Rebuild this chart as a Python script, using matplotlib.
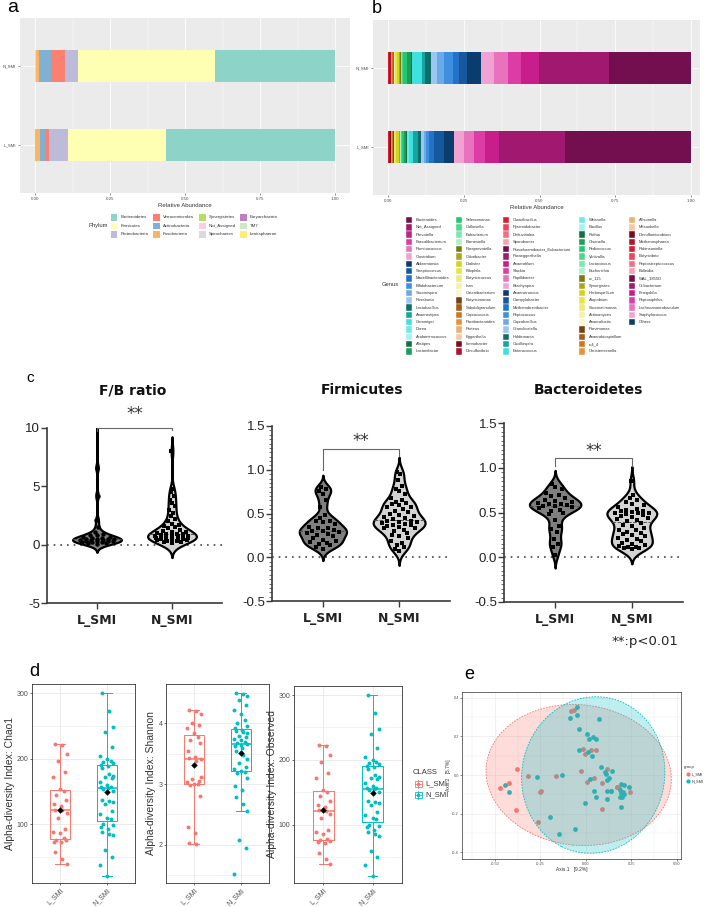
import numpy as np
import matplotlib
matplotlib.use("Agg")
import matplotlib.pyplot as plt
from matplotlib.patches import Rectangle, Ellipse
from matplotlib.ticker import MultipleLocator

plt.rcParams['font.family'] = ['DejaVu Sans']
GG = 'Liberation Sans'

# ---------------- DATA ----------------
groups = ['L_SMI', 'N_SMI']

# panel a : phylum relative abundance
phyla = ['Bacteroidetes', 'Firmicutes', 'Proteobacteria', 'Verrucomicrobia', 'Actinobacteria',
         'Fusobacteria', 'Synergistetes', 'Not_Assigned', 'Spirochaetes', 'Euryarchaeota', 'TM7',
         'Lentisphaerae']
phylum_colors = ['#8DD3C7', '#FFFFB3', '#BEBADA', '#FB8072', '#80B1D3', '#FDB462', '#B3DE69',
                 '#FCCDE5', '#D9D9D9', '#BC80BD', '#CCEBC5', '#FFED6F']
phylum_L = [0.562, 0.327, 0.063, 0.015, 0.015, 0.016, 0.001, 0.0005, 0.0003, 0.0001, 0.0001, 0.0001]
phylum_N = [0.401, 0.457, 0.042, 0.047, 0.040, 0.010, 0.001, 0.001, 0.0005, 0.0005, 0.0003, 0.0002]

# panel b : genus relative abundance
genera = ['Bacteroides', 'Not_Assigned', 'Prevotella', 'Faecalibacterium', 'Ruminococcus', 'Clostridium',
          'Akkermansia', 'Streptococcus', 'Macellibacteroides', 'Bifidobacterium', 'Succinispira',
          'Roseburia', 'Lactobacillus', 'Anaerostipes', 'Gemmiger', 'Dorea', 'Acidaminococcus',
          'Alistipes', 'Lactonifactor',
          'Selenomonas', 'Collinsella', 'Eubacterium', 'Barnesiella', 'Paraprevotella', 'Odoribacter',
          'Dialister', 'Bilophila', 'Butyricicoccus', 'Inan', 'Catenibacterium', 'Butyricimonas',
          'Subdoligranulum', 'Coprococcus', 'Parabacteroides', 'Proteus', 'Eggerthella', 'Limnobacter',
          'Desulfovibrio',
          'Cloacibacillus', 'Pyramidobacter', 'Defluviitalea', 'Sporobacter', 'Pseudoramibacter_Eubacterium',
          'Paraeggerthella', 'Anaerofilum', 'Slackia', 'Papillibacter', 'Brachyspira', 'Anaerotruncus',
          'Campylobacter', 'Methanobrevibacter', 'Peptococcus', 'Coprobacillus', 'Granulicatella',
          'Holdemania', 'Oscillospira', 'Enterococcus',
          'Weissella', 'Bacillus', 'Rothia', 'Olsenella', 'Pediococcus', 'Victivallis', 'Lactococcus',
          'Escherichia', 'cc_115', 'Synergistes', 'Herbaspirillum', 'Atopobium', 'Succinatimonas',
          'Actinomyces', 'Anaerofustis', 'Parvimonas', 'Anaerobiospirillum', 'rc4_4', 'Christensenella',
          'Allisonella', 'Mitsuokella', 'Desulfomicrobium', 'Methanosphaera', 'Robinsoniella',
          'Butyrivibrio', 'Peptostreptococcus', 'Bulleidia', 'WAL_1855D', 'Oribacterium', 'Finegoldia',
          'Peptoniphilus', 'Lachnoanaerobaculum', 'Staphylococcus', 'Others']
genus_palette = ['#730F4F', '#A0186F', '#C71E8C', '#DD3BA5', '#E872BE', '#F0A3D3',
                 '#0B3C6E', '#15589E', '#2272C8', '#3E8FE0', '#6AAAE8', '#9CC6F0',
                 '#0D6E6A', '#17A3A0', '#3FE0E0', '#70E8EA', '#A3F2F2',
                 '#15703F', '#1C9E58', '#22C76E', '#4BD98E', '#7DE8AD', '#AAF0CC',
                 '#7A7A10', '#A8A818', '#D4D420', '#E5E545', '#ECEC78', '#F2F2A8', '#F7F7D0',
                 '#7A4010', '#A85C18', '#D4731F', '#E8903A', '#F0AE70', '#F5C9A0',
                 '#7A0C1E', '#B0122C', '#D81C30', '#E8455E', '#EF7085', '#F5A0B0']
genus_L = [0.421, 0.218, 0.047, 0.036, 0.034, 0.034, 0.035, 0.031, 0.017, 0.011, 0.008, 0.008,
           0.012, 0.014, 0.015, 0.005, 0.001, 0.003, 0.008, 0.006, 0.003, 0.001, 0.001, 0.003,
           0.003, 0.008, 0.004, 0.002, 0.001, 0.001, 0.002, 0.002, 0.003, 0.002, 0.001, 0.001,
           0.001, 0.004, 0.002, 0.001]
genus_N = [0.271, 0.233, 0.062, 0.043, 0.045, 0.044, 0.047, 0.025, 0.022, 0.030, 0.022, 0.020,
           0.020, 0.011, 0.031, 0.001, 0.001, 0.004, 0.012, 0.012, 0.006, 0.002, 0.001, 0.004,
           0.003, 0.007, 0.004, 0.002, 0.001, 0.001, 0.002, 0.002, 0.003, 0.002, 0.001, 0.001,
           0.001, 0.005, 0.002, 0.001]

# panel c : violin data
fb_L = [12.0, 6.6, 4.2, 2.1, 1.5, 1.1, 0.9, 0.85, 0.8, 0.7, 0.65, 0.6, 0.55, 0.52, 0.5, 0.48, 0.45,
        0.42, 0.4, 0.38, 0.35, 0.33, 0.3, 0.28, 0.25, 0.22, 0.2, 0.18, 0.15, 0.1]
fb_N = [8.0, 4.8, 4.5, 4.2, 3.8, 3.6, 3.3, 3.0, 2.7, 2.5, 2.2, 2.0, 1.8, 1.7, 1.6, 1.5, 1.4, 1.3,
        1.2, 1.1, 1.05, 1.0, 0.95, 0.9, 0.88, 0.85, 0.8, 0.78, 0.75, 0.72, 0.7, 0.68, 0.65, 0.62,
        0.6, 0.58, 0.55, 0.52, 0.5, 0.48, 0.45, 0.42, 0.4, 0.35, 0.3, 0.25, 0.2, 0.15]
firm_L = [0.80, 0.78, 0.76, 0.72, 0.65, 0.58, 0.48, 0.45, 0.42, 0.41, 0.40, 0.38, 0.35, 0.34, 0.33,
          0.31, 0.30, 0.30, 0.29, 0.28, 0.27, 0.25, 0.24, 0.22, 0.20, 0.19, 0.17, 0.16, 0.15, 0.14,
          0.12, 0.10]
firm_N = [0.98, 0.95, 0.88, 0.82, 0.78, 0.76, 0.72, 0.68, 0.65, 0.63, 0.62, 0.61, 0.60, 0.58, 0.57,
          0.55, 0.53, 0.52, 0.50, 0.48, 0.47, 0.46, 0.45, 0.44, 0.42, 0.41, 0.40, 0.40, 0.39, 0.38,
          0.37, 0.37, 0.36, 0.35, 0.34, 0.33, 0.31, 0.30, 0.28, 0.26, 0.24, 0.22, 0.19, 0.16, 0.14,
          0.12, 0.10, 0.07]
bact_L = [0.82, 0.79, 0.76, 0.72, 0.70, 0.68, 0.66, 0.64, 0.63, 0.62, 0.61, 0.60, 0.59, 0.58, 0.57,
          0.57, 0.56, 0.55, 0.53, 0.52, 0.50, 0.48, 0.42, 0.35, 0.32, 0.28, 0.20, 0.15, 0.12, 0.03]
bact_N = [0.85, 0.70, 0.66, 0.64, 0.62, 0.60, 0.58, 0.56, 0.54, 0.53, 0.52, 0.52, 0.51, 0.50, 0.50,
          0.49, 0.48, 0.47, 0.46, 0.45, 0.44, 0.43, 0.42, 0.40, 0.38, 0.36, 0.35, 0.33, 0.31, 0.30,
          0.28, 0.27, 0.26, 0.25, 0.24, 0.22, 0.20, 0.19, 0.18, 0.16, 0.15, 0.14, 0.13, 0.12, 0.11,
          0.10, 0.10, 0.09]

# panel d : alpha diversity
chao1_L = [223, 221, 207, 197, 180, 172, 153, 150, 145, 137, 131, 127, 122, 121, 117, 110, 92, 88,
           86, 78, 76, 75, 73, 72, 57, 47, 39]
chao1_N = [300, 273, 248, 240, 218, 204, 200, 197, 195, 193, 191, 189, 186, 176, 174, 172, 171,
           165, 160, 156, 154, 150, 157, 155, 137, 135, 133, 130, 120, 115, 110, 108, 100, 98, 96,
           92, 88, 85, 83, 60, 50, 38, 21]
shannon_L = [4.22, 4.21, 4.15, 4.0, 3.97, 3.93, 3.85, 3.77, 3.72, 3.68, 3.55, 3.45, 3.43, 3.38,
             3.12, 3.08, 3.05, 3.03, 3.01, 3.0, 2.98, 2.8, 2.3, 2.2, 2.03, 2.02, 3.42]
shannon_N = [4.5, 4.48, 4.45, 4.38, 4.3, 4.22, 4.15, 4.05, 4.0, 3.95, 3.92, 3.9, 3.88, 3.86, 3.84,
             3.8, 3.78, 3.75, 3.72, 3.7, 3.68, 3.66, 3.62, 3.6, 3.55, 3.48, 3.42, 3.35, 3.28, 3.25,
             3.22, 3.2, 3.18, 3.1, 2.97, 2.9, 2.78, 2.68, 2.55, 2.08, 1.95, 1.52, 3.65]
observed_L = list(chao1_L)
observed_N = list(chao1_N)

# panel e : PCoA
pcoa_L_x = [-0.082, -0.064, -0.378, -0.316, -0.164, -0.027, -0.018, 0.026, 0.053, -0.005, 0.113,
            0.046, 0.007, 0.086, 0.168, 0.182, 0.241, -0.471, -0.423, -0.383, -0.261, -0.255,
            -0.248, 0.089, 0.172]
pcoa_L_y = [0.334, 0.338, 0.031, -0.003, -0.003, 0.019, 0.137, 0.132, 0.130, 0.107, 0.029, -0.017,
            -0.035, -0.040, -0.064, -0.069, -0.087, -0.066, -0.040, -0.184, -0.242, -0.087, -0.085,
            -0.177, -0.061]
pcoa_N_x = [-0.047, -0.086, -0.051, 0.071, -0.038, 0.004, 0.018, 0.040, 0.057, -0.038, 0.009, 0.033,
            0.080, 0.102, 0.109, 0.142, 0.126, 0.117, 0.024, 0.046, 0.113, 0.139, 0.057, 0.115,
            -0.004, -0.270, -0.130, -0.443, -0.422, -0.197, -0.148, -0.062, 0.190, 0.210, 0.239,
            0.186, 0.195, 0.208, 0.197, 0.186, 0.193, 0.204, 0.135]
pcoa_N_y = [0.352, 0.298, 0.310, 0.293, 0.239, 0.211, 0.185, 0.196, 0.187, 0.130, 0.118, 0.097,
            0.040, 0.017, 0.005, 0.023, -0.014, -0.026, -0.023, -0.081, -0.083, -0.081, -0.116,
            -0.126, -0.145, -0.009, 0.002, -0.050, -0.090, -0.218, -0.306, -0.279, -0.048, -0.054,
            -0.064, -0.078, -0.092, -0.099, -0.116, -0.113, -0.168, -0.087, -0.081]
# ellipse (centre x, centre y, width, height, angle)
ellipse_L = [-0.04, 0.0, 1.02, 0.73, -5]
ellipse_N = [0.04, 0.0, 0.78, 0.82, -25]

RED, CYAN = '#F8766D', '#00BFC4'

# ---------------- FIGURE ----------------
W, H = 708, 907
fig = plt.figure(figsize=(W / 100, H / 100), dpi=100)


def px_ax(l, t, r, b):
    return fig.add_axes([l / W, 1 - b / H, (r - l) / W, (b - t) / H])


def gg_gray_axes(ax, xlim):
    ax.set_facecolor('#EBEBEB')
    for s in ax.spines.values():
        s.set_visible(False)
    for x in [0.125, 0.375, 0.625, 0.875]:
        ax.axvline(x, color='white', lw=0.3, zorder=0)
    for x in [0, 0.25, 0.5, 0.75, 1.0]:
        ax.axvline(x, color='white', lw=0.6, zorder=0)
    for y in [1, 2]:
        ax.axhline(y, color='white', lw=0.6, zorder=0)
    ax.set_xlim(*xlim)
    ax.set_ylim(0.4, 2.6)
    ax.set_xticks([0, 0.25, 0.5, 0.75, 1.0])
    ax.set_xticklabels(['0.00', '0.25', '0.50', '0.75', '1.00'], fontsize=3.2, color='#4D4D4D',
                       family=GG)
    ax.set_yticks([1, 2])
    ax.set_yticklabels(groups, fontsize=3.2, color='#4D4D4D', family=GG)
    ax.tick_params(length=1.5, width=0.4, color='#333333', pad=1.5)
    ax.set_xlabel('Relative Abundance', fontsize=4.3, family=GG, color='#333333', labelpad=1)


# panel a
axA = px_ax(20, 18, 350, 193)
gg_gray_axes(axA, (-0.05, 1.05))
for gi, vals in enumerate([phylum_L, phylum_N]):
    v = np.array(vals, float)
    v = v / v.sum()
    left = 0.0
    for k in reversed(range(len(v))):
        axA.barh(gi + 1, v[k], left=left, height=0.4, color=phylum_colors[k], lw=0, zorder=2)
        left += v[k]

# panel b
axB = px_ax(373, 20, 700, 195)
gg_gray_axes(axB, (-0.05, 1.03))
for gi, vals in enumerate([genus_L, genus_N]):
    v = np.zeros(len(genera))
    v[:len(vals)] = vals
    v = v / v.sum()
    left = 0.0
    for k in reversed(range(len(v))):
        if v[k] > 0:
            axB.barh(gi + 1, v[k], left=left, height=0.4, color=genus_palette[k % len(genus_palette)],
                     lw=0, zorder=2)
            left += v[k]


# panel c
def kde_violin(ax, vals, pos, bw, width, fc, marker, ms):
    v = np.asarray(vals, float)
    g = np.linspace(v.min() - 2.5 * bw, v.max() + 2.5 * bw, 800)
    d = np.exp(-0.5 * ((g[:, None] - v[None, :]) / bw) ** 2).sum(1)
    d = d / d.max() * width / 2
    ax.fill_betweenx(g, pos - d, pos + d, facecolor=fc, edgecolor='black', lw=1.6, zorder=2)
    med = np.median(v)
    dm = np.interp(med, g, d)
    ax.plot([pos - dm, pos + dm], [med, med], color='#555555', ls='--', lw=0.7, zorder=3)
    order = np.argsort(v)
    cyc = [0.0, -0.55, 0.55, -0.28, 0.28, -0.8, 0.8]
    xs = np.empty_like(v)
    for i, idx in enumerate(order):
        xs[idx] = pos + cyc[i % len(cyc)] * np.interp(v[idx], g, d) * 0.85
    ax.plot(xs, v, ls='none', marker=marker, ms=ms, color='black', mew=0, zorder=4)


def gp_axes(ax, ylim, yticks, ylabels, minor):
    ax.set_xlim(-0.667, 1.667)
    ax.set_ylim(*ylim)
    for s in ['top', 'right']:
        ax.spines[s].set_visible(False)
    for s in ['left', 'bottom']:
        ax.spines[s].set_linewidth(1.2)
        ax.spines[s].set_color('#3A3A3A')
    ax.set_yticks(yticks)
    ax.set_yticklabels(ylabels, fontsize=9.5, family=GG, color='#222222')
    if minor:
        ax.yaxis.set_minor_locator(MultipleLocator(minor))
        ax.tick_params(axis='y', which='minor', length=2.5, width=0.6, color='#555555')
    ax.tick_params(axis='y', which='major', length=4, width=1.0, color='#3A3A3A', pad=1)
    ax.set_xticks([0, 1])
    ax.set_xticklabels(groups, fontsize=9, fontweight='bold', color='#222222')
    ax.tick_params(axis='x', length=4, width=1.0, color='#3A3A3A', pad=4)
    ax.axhline(0, color='#444444', ls=(0, (1, 3)), lw=1.2, zorder=1)


def bracket(ax, y1, yb, y2, ys):
    ax.plot([0, 0, 1, 1], [y1, yb, yb, y2], color='#666666', lw=0.8, clip_on=False, zorder=5)
    ax.text(0.5, ys, '**', ha='center', va='center', fontsize=12, color='#333333')


axC1 = px_ax(47, 428, 222, 603)
gp_axes(axC1, (-5, 10), [-5, 0, 5, 10], ['-5', '0', '5', '10'], None)
kde_violin(axC1, fb_L, 0, 0.3, 0.65, '#7F7F7F', 'o', 3.2)
kde_violin(axC1, fb_N, 1, 0.5, 0.65, '#D3D3D3', 's', 2.6)
bracket(axC1, 9.75, 10.0, 9.8, 11.2)

axC2 = px_ax(272, 426, 450, 601)
gp_axes(axC2, (-0.5, 1.5), [-0.5, 0, 0.5, 1.0, 1.5], ['-0.5', '0.0', '0.5', '1.0', '1.5'], 0.05)
kde_violin(axC2, firm_L, 0, 0.055, 0.62, '#7F7F7F', 's', 2.6)
kde_violin(axC2, firm_N, 1, 0.065, 0.68, '#D3D3D3', 's', 2.6)
bracket(axC2, 1.0, 1.237, 1.16, 1.33)

axC3 = px_ax(504, 423, 683, 602)
gp_axes(axC3, (-0.5, 1.5), [-0.5, 0, 0.5, 1.0, 1.5], ['-0.5', '0.0', '0.5', '1.0', '1.5'], 0.05)
kde_violin(axC3, bact_L, 0, 0.06, 0.67, '#7F7F7F', 's', 2.6)
kde_violin(axC3, bact_N, 1, 0.065, 0.65, '#D3D3D3', 's', 2.6)
bracket(axC3, 1.02, 1.11, 1.02, 1.19)


# panel d
def gg_box(ax, dL, dN, ylim, yticks, yminor, ylabel):
    ax.set_xlim(0.4, 2.6)
    ax.set_ylim(*ylim)
    for y in yminor:
        ax.axhline(y, color='#EBEBEB', lw=0.4, zorder=0)
    for y in yticks:
        ax.axhline(y, color='#EBEBEB', lw=0.7, zorder=0)
    for x in [1, 2]:
        ax.axvline(x, color='#EBEBEB', lw=0.7, zorder=0)
    offs = [-0.1, 0.05, 0.14, -0.04, 0.1, -0.15, 0.0, 0.08, -0.08, 0.13, -0.12, 0.03]
    for i, (d, c) in enumerate([(dL, RED), (dN, CYAN)]):
        d = np.asarray(d, float)
        ax.boxplot(d, positions=[i + 1], widths=0.42, showfliers=False, whis=1.5, capwidths=0.2,
                   boxprops=dict(color=c, lw=0.7), whiskerprops=dict(color=c, lw=0.7),
                   capprops=dict(color=c, lw=0.7), medianprops=dict(color=c, lw=1.1))
        xs = [i + 1 + offs[j % len(offs)] for j in range(len(d))]
        ax.scatter(xs, d, s=8, color=c, lw=0, zorder=3)
        ax.plot(i + 1, d.mean(), marker='D', ms=3.3, color='black', mew=0, zorder=4)
    for s in ax.spines.values():
        s.set_linewidth(0.6)
        s.set_color('#333333')
    ax.set_yticks(yticks)
    ax.set_yticklabels([str(t) for t in yticks], fontsize=5, color='#4D4D4D', family=GG)
    ax.set_xticks([1, 2])
    ax.set_xticklabels(groups, fontsize=5, color='#4D4D4D', family=GG, rotation=45, ha='right',
                       rotation_mode='anchor')
    ax.tick_params(length=1.5, width=0.5, color='#333333', pad=1)
    ax.set_ylabel(ylabel, fontsize=7.5, family=GG, color='#333333', labelpad=1.5)


axD1 = px_ax(32, 684, 135, 883)
gg_box(axD1, chao1_L, chao1_N, (10, 314), [100, 200, 300], [50, 150, 250],
       'Alpha-diversity Index: Chao1')
axD2 = px_ax(166, 684, 269, 883)
gg_box(axD2, shannon_L, shannon_N, (1.37, 4.65), [2, 3, 4], [1.5, 2.5, 3.5, 4.5],
       'Alpha-diversity Index: Shannon')
axD3 = px_ax(294, 686, 402, 883)
gg_box(axD3, observed_L, observed_N, (10, 314), [100, 200, 300], [50, 150, 250],
       'Alpha-diversity Index: Observed')

# panel e
axE = px_ax(462, 692, 681, 859)
axE.set_xlim(-0.681, 0.522)
axE.set_ylim(-0.436, 0.431)
for x in [-0.625, -0.375, -0.125, 0.125, 0.375]:
    axE.axvline(x, color='#EBEBEB', lw=0.3, zorder=0)
for x in [-0.5, -0.25, 0, 0.25, 0.5]:
    axE.axvline(x, color='#EBEBEB', lw=0.5, zorder=0)
for y in [-0.3, -0.1, 0.1, 0.3]:
    axE.axhline(y, color='#EBEBEB', lw=0.3, zorder=0)
for y in [-0.4, -0.2, 0, 0.2, 0.4]:
    axE.axhline(y, color='#EBEBEB', lw=0.5, zorder=0)
axE.scatter(pcoa_L_x, pcoa_L_y, s=12, color=RED, lw=0, zorder=2)
axE.scatter(pcoa_N_x, pcoa_N_y, s=12, color=CYAN, lw=0, zorder=2)
for (cx, cy, ew, eh, ang), c in [(ellipse_L, RED), (ellipse_N, CYAN)]:
    axE.add_patch(Ellipse((cx, cy), ew, eh, angle=ang, facecolor=c, alpha=0.25, edgecolor='none',
                          zorder=3))
    axE.add_patch(Ellipse((cx, cy), ew, eh, angle=ang, facecolor='none', edgecolor=c, lw=0.6,
                          ls=(0, (2, 1.5)), zorder=3))
for s in axE.spines.values():
    s.set_linewidth(0.5)
    s.set_color('#333333')
axE.set_xticks([-0.5, -0.25, 0, 0.25, 0.5])
axE.set_xticklabels(['-0.50', '-0.25', '0.00', '0.25', '0.50'], fontsize=2.8, color='#4D4D4D',
                    family=GG)
axE.set_yticks([-0.4, -0.2, 0, 0.2, 0.4])
axE.set_yticklabels(['-0.4', '-0.2', '0.0', '0.2', '0.4'], fontsize=2.8, color='#4D4D4D', family=GG)
axE.tick_params(length=1.2, width=0.4, color='#333333', pad=1)
axE.set_xlabel('Axis.1   [9.2%]', fontsize=3.5, family=GG, color='#333333', labelpad=1)
axE.set_ylabel('Axis.2   [5.7%]', fontsize=3.5, family=GG, color='#333333', labelpad=1)

# ---------------- overlay (labels, legends) ----------------
ov = fig.add_axes([0, 0, 1, 1])
ov.set_xlim(0, W)
ov.set_ylim(H, 0)
ov.axis('off')
ov.patch.set_visible(False)

for t, x, y, fs in [('a', 7, 12, 14), ('b', 372, 13, 13), ('c', 26, 382, 11), ('d', 29, 676, 13),
                    ('e', 464, 679, 13)]:
    ov.text(x, y, t, fontsize=fs, family=GG, va='baseline', ha='left', color='black')

# panel a legend
ov.text(98, 226, 'Phylum', fontsize=4.2, family=GG, color='#333333', ha='center', va='center')
col_x = [114, 156.5, 202.5, 243.5]
row_y = [217.3, 226, 234.3]
for k, name in enumerate(phyla):
    cx, cy = col_x[k // 3], row_y[k % 3]
    ov.add_patch(Rectangle((cx - 3.3, cy - 3.3), 6.6, 6.6, facecolor=phylum_colors[k],
                           edgecolor='none'))
    ov.text(cx + 6.5, cy, name, fontsize=3.2, family=GG, color='#333333', va='center', ha='left')

# panel b legend
ov.text(390, 285, 'Genus', fontsize=4.2, family=GG, color='#333333', ha='center', va='center')
gcol_x = [409, 459, 506, 582, 632]
for k, name in enumerate(genera):
    cx, cy = gcol_x[k // 19], 220 + (k % 19) * 7.3
    ov.add_patch(Rectangle((cx - 3.2, cy - 3.2), 6.4, 6.4,
                           facecolor=genus_palette[k % len(genus_palette)], edgecolor='white',
                           lw=0.3))
    ov.text(cx + 6.5, cy, name, fontsize=3.0, family=GG, color='#333333', va='center', ha='left')

# panel c titles + note
for t, x in [('F/B ratio', 133), ('Firmicutes', 362), ('Bacteroidetes', 588)]:
    ov.text(x, 394, t, fontsize=10, fontweight='bold', ha='center', va='baseline', color='#111111')
ov.text(645, 641, '**:p<0.01', fontsize=9.5, ha='center', va='center', color='#222222')

# panel d legend
ov.text(413, 772, 'CLASS', fontsize=5.5, family=GG, color='#333333', ha='left', va='center')
for cy, c, name in [(784, RED, 'L_SMI'), (795, CYAN, 'N_SMI')]:
    ov.plot([418, 418], [cy - 4, cy + 4], color=c, lw=0.6)
    ov.add_patch(Rectangle((414.5, cy - 2.8), 7, 5.6, facecolor='white', edgecolor=c, lw=0.6))
    ov.plot([414.5, 421.5], [cy, cy], color=c, lw=0.6)
    ov.plot(418, cy, marker='o', ms=2.5, color=c, mew=0)
    ov.text(425, cy, name, fontsize=5.5, family=GG, color='#333333', ha='left', va='center')

# panel e legend
ov.text(684, 767, 'group', fontsize=3.2, family=GG, color='#333333', ha='left', va='center')
for cy, c, name in [(774, RED, 'L_SMI'), (781, CYAN, 'N_SMI')]:
    ov.plot(688, cy, marker='o', ms=3, color=c, mew=0)
    ov.text(692, cy, name, fontsize=2.8, family=GG, color='#333333', ha='left', va='center')

fig.savefig('out.png', dpi=100)
